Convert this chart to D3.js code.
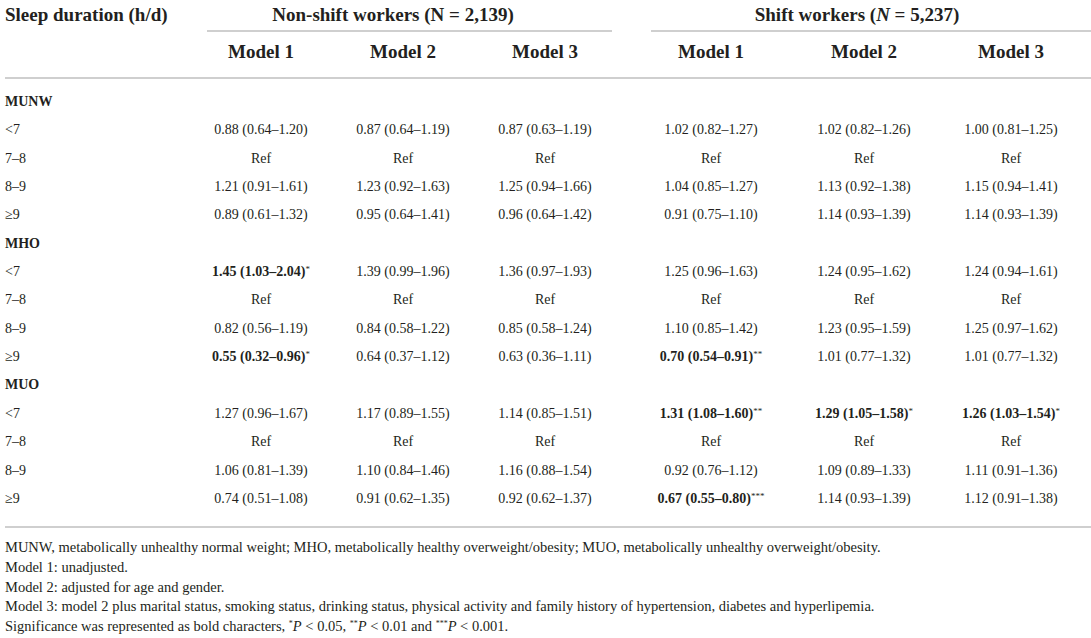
<!DOCTYPE html>
<meta charset="utf-8">
<style>
  body { margin: 0; background: #fff; }
  .rule { stroke: #cfcfcf; stroke-width: 2px; }
  .head { font-weight: bold; font-size: 19px; }
  .cell { font-size: 14px; }
  .note { font-size: 14.5px; }
</style>
<body>
<script src="https://d3js.org/d3.v7.min.js"></script>
<script>

  // table content
  var groups = ["Non-shift workers", "Shift workers"];
  var groupN = ["2,139", "5,237"];
  var models = ["Model 1", "Model 2", "Model 3", "Model 1", "Model 2", "Model 3"];
  var phenotypes = ["MUNW", "MHO", "MUO"];
  var sleepCats = ["<7", "7\u20138", "8\u20139", "\u22659"];

  // one row per sleep category, one entry per model column (non-shift 1-3, shift 1-3)
  var munw = [
    ["0.88 (0.64\u20131.20)", "0.87 (0.64\u20131.19)", "0.87 (0.63\u20131.19)", "1.02 (0.82\u20131.27)", "1.02 (0.82\u20131.26)", "1.00 (0.81\u20131.25)"],
    ["Ref", "Ref", "Ref", "Ref", "Ref", "Ref"],
    ["1.21 (0.91\u20131.61)", "1.23 (0.92\u20131.63)", "1.25 (0.94\u20131.66)", "1.04 (0.85\u20131.27)", "1.13 (0.92\u20131.38)", "1.15 (0.94\u20131.41)"],
    ["0.89 (0.61\u20131.32)", "0.95 (0.64\u20131.41)", "0.96 (0.64\u20131.42)", "0.91 (0.75\u20131.10)", "1.14 (0.93\u20131.39)", "1.14 (0.93\u20131.39)"]
  ];
  var mho = [
    ["1.45 (1.03\u20132.04)", "1.39 (0.99\u20131.96)", "1.36 (0.97\u20131.93)", "1.25 (0.96\u20131.63)", "1.24 (0.95\u20131.62)", "1.24 (0.94\u20131.61)"],
    ["Ref", "Ref", "Ref", "Ref", "Ref", "Ref"],
    ["0.82 (0.56\u20131.19)", "0.84 (0.58\u20131.22)", "0.85 (0.58\u20131.24)", "1.10 (0.85\u20131.42)", "1.23 (0.95\u20131.59)", "1.25 (0.97\u20131.62)"],
    ["0.55 (0.32\u20130.96)", "0.64 (0.37\u20131.12)", "0.63 (0.36\u20131.11)", "0.70 (0.54\u20130.91)", "1.01 (0.77\u20131.32)", "1.01 (0.77\u20131.32)"]
  ];
  var muo = [
    ["1.27 (0.96\u20131.67)", "1.17 (0.89\u20131.55)", "1.14 (0.85\u20131.51)", "1.31 (1.08\u20131.60)", "1.29 (1.05\u20131.58)", "1.26 (1.03\u20131.54)"],
    ["Ref", "Ref", "Ref", "Ref", "Ref", "Ref"],
    ["1.06 (0.81\u20131.39)", "1.10 (0.84\u20131.46)", "1.16 (0.88\u20131.54)", "0.92 (0.76\u20131.12)", "1.09 (0.89\u20131.33)", "1.11 (0.91\u20131.36)"],
    ["0.74 (0.51\u20131.08)", "0.91 (0.62\u20131.35)", "0.92 (0.62\u20131.37)", "0.67 (0.55\u20130.80)", "1.14 (0.93\u20131.39)", "1.12 (0.91\u20131.38)"]
  ];
  // significance stars (bold cells), same layout as above
  var munwSig = [["", "", "", "", "", ""], ["", "", "", "", "", ""], ["", "", "", "", "", ""], ["", "", "", "", "", ""]];
  var mhoSig = [["*", "", "", "", "", ""], ["", "", "", "", "", ""], ["", "", "", "", "", ""], ["*", "", "", "**", "", ""]];
  var muoSig = [["", "", "", "**", "*", "*"], ["", "", "", "", "", ""], ["", "", "", "", "", ""], ["", "", "", "***", "", ""]];

  var notes = [
    "MUNW, metabolically unhealthy normal weight; MHO, metabolically healthy overweight/obesity; MUO, metabolically unhealthy overweight/obesity.",
    "Model 1: unadjusted.",
    "Model 2: adjusted for age and gender.",
    "Model 3: model 2 plus marital status, smoking status, drinking status, physical activity and family history of hypertension, diabetes and hyperlipemia."
  ];

  var width = 1091, height = 638;

  var svg = d3.select("body").append("svg")
    .attr("width", width)
    .attr("height", height)
    .attr("font-family", "'Liberation Serif', 'DejaVu Serif', serif")
    .attr("fill", "#231f20");

  // build body rows: a phenotype heading row then its 4 sleep rows
  var values = [munw, mho, muo], sigs = [munwSig, mhoSig, muoSig];
  var rows = [];
  phenotypes.forEach(function (p, i) {
    rows.push({ label: p, heading: true });
    sleepCats.forEach(function (c, j) {
      rows.push({ label: c, heading: false, cells: values[i][j], sig: sigs[i][j] });
    });
  });

  // scales
  var y = d3.scalePoint().domain(d3.range(rows.length)).range([101, 498]);
  var x = d3.scaleOrdinal().domain(d3.range(6)).range([261, 403, 545, 711, 864, 1011]);

  // header
  svg.append("text").attr("class", "head")
    .attr("x", 5).attr("y", 14).attr("dy", "0.35em")
    .text("Sleep duration (h/d)");

  var groupX = [393, 857];
  var groupLine = [[207, 612], [651, 1091]];
  groups.forEach(function (g, i) {
    var t = svg.append("text").attr("class", "head")
      .attr("x", groupX[i]).attr("y", 14).attr("dy", "0.35em")
      .attr("text-anchor", "middle");
    t.append("tspan").text(g + " (");
    t.append("tspan").style("font-style", i == 1 ? "italic" : "normal").text("N");
    t.append("tspan").text(" = " + groupN[i] + ")");
    svg.append("line").attr("class", "rule")
      .attr("x1", groupLine[i][0]).attr("x2", groupLine[i][1])
      .attr("y1", 31).attr("y2", 31);
  });

  svg.selectAll(".model").data(models).enter().append("text")
    .attr("class", "head model")
    .attr("x", function (d, i) { return x(i); })
    .attr("y", 51).attr("dy", "0.35em")
    .attr("text-anchor", "middle")
    .text(function (d) { return d; });

  svg.append("line").attr("class", "rule")
    .attr("x1", 5).attr("x2", width).attr("y1", 78).attr("y2", 78);

  // body
  var row = svg.selectAll(".row").data(rows).enter().append("g")
    .attr("class", "row")
    .attr("transform", function (d, i) { return "translate(0," + y(i) + ")"; });

  row.append("text")
    .attr("class", "cell")
    .attr("x", 5).attr("dy", "0.35em")
    .style("font-weight", function (d) { return d.heading ? "bold" : "normal"; })
    .text(function (d) { return d.label; });

  row.filter(function (d) { return !d.heading; }).each(function (d) {
    var g = d3.select(this);
    d.cells.forEach(function (v, i) {
      var stars = d.sig[i];
      var t = g.append("text").attr("class", "cell")
        .attr("x", x(i)).attr("dy", "0.35em")
        .attr("text-anchor", "middle");
      t.append("tspan").style("font-weight", stars ? "bold" : "normal").text(v);
      if (stars) {
        t.append("tspan").attr("dy", -4).style("font-size", "9px").text(stars);
      }
    });
  });

  svg.append("line").attr("class", "rule")
    .attr("x1", 5).attr("x2", width).attr("y1", 527).attr("y2", 527);

  // footnotes
  var noteY = d3.scalePoint().domain(d3.range(5)).range([547, 626]);
  notes.forEach(function (n, i) {
    svg.append("text").attr("class", "note")
      .attr("x", 5).attr("y", noteY(i)).attr("dy", "0.35em")
      .text(n);
  });
  var last = svg.append("text").attr("class", "note")
    .attr("x", 5).attr("y", noteY(4)).attr("dy", "0.35em");
  last.append("tspan").text("Significance was represented as bold characters, ");
  [["*", "0.05, "], ["**", "0.01 and "], ["***", "0.001."]].forEach(function (p) {
    last.append("tspan").attr("dy", -5).style("font-size", "8px").text(p[0]);
    last.append("tspan").attr("dy", 5).style("font-style", "italic").text("P");
    last.append("tspan").text(" < " + p[1]);
  });

</script>
</body>
